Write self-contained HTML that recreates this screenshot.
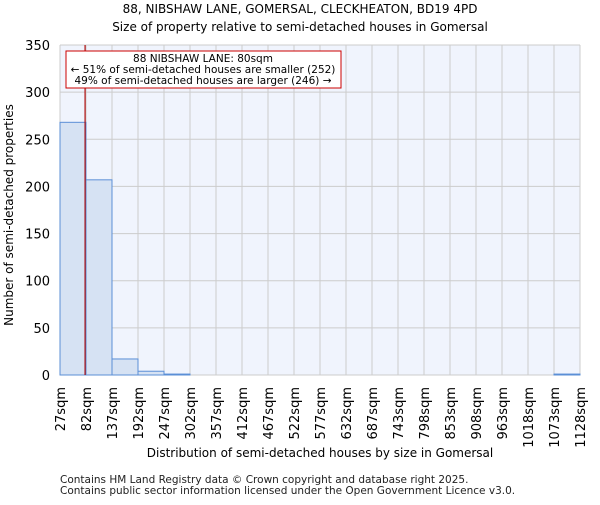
<!DOCTYPE html>
<html><head><meta charset="utf-8"><style>
body{margin:0;background:#fff;font-family:"Liberation Sans","DejaVu Sans",sans-serif}
</style></head><body>
<svg width="600" height="500" xmlns="http://www.w3.org/2000/svg" font-family="DejaVu Sans, Liberation Sans, sans-serif">
<text x="300" y="13" text-anchor="middle" font-size="12">88, NIBSHAW LANE, GOMERSAL, CLECKHEATON, BD19 4PD</text>
<text x="300" y="31" text-anchor="middle" font-size="12">Size of property relative to semi-detached houses in Gomersal</text>
<rect x="60" y="45" width="520" height="330" fill="#f0f4fd"/>
<g id="grid"></g>
<g id="bars"></g>
<g id="axes"></g>
<text transform="translate(13,215) rotate(-90)" text-anchor="middle" font-size="12">Number of semi-detached properties</text>
<text x="320" y="457" text-anchor="middle" font-size="12">Distribution of semi-detached houses by size in Gomersal</text>
<text x="60" y="483" font-size="10.5" fill="#222">Contains HM Land Registry data © Crown copyright and database right 2025.</text>
<text x="60" y="494" font-size="10.5" fill="#222">Contains public sector information licensed under the Open Government Licence v3.0.</text>
<line id="marker" y1="45" y2="375" stroke="#b00000" stroke-width="1.1"/>
<rect x="66" y="51" width="275" height="37" fill="#fff" stroke="#cc0000" stroke-width="1"/>
<text x="203" y="62" text-anchor="middle" font-size="10.5">88 NIBSHAW LANE: 80sqm</text>
<text x="203" y="73" text-anchor="middle" font-size="10.5">← 51% of semi-detached houses are smaller (252)</text>
<text x="203" y="84" text-anchor="middle" font-size="10.5">49% of semi-detached houses are larger (246) →</text>
</svg>
<script>
const binLabels=["27sqm","82sqm","137sqm","192sqm","247sqm","302sqm","357sqm","412sqm","467sqm","522sqm","577sqm","632sqm","687sqm","743sqm","798sqm","853sqm","908sqm","963sqm","1018sqm","1073sqm","1128sqm"];
const counts=[268,207,17,4,1,0,0,0,0,0,0,0,0,0,0,0,0,0,0,1];
const yTicks=[0,50,100,150,200,250,300,350];
const propertySize=80;
const binStart=27, binWidth=55;
const NS="http://www.w3.org/2000/svg";
const L=60,R=580,T=45,B=375,yMax=350;
const bw=(R-L)/counts.length;
const xs=i=>L+i*bw;
const ys=v=>B-v/yMax*(B-T);
function mk(tag,attrs,parent){const e=document.createElementNS(NS,tag);for(const k in attrs)e.setAttribute(k,attrs[k]);document.getElementById(parent).appendChild(e);return e;}
yTicks.forEach(t=>{
 const g=mk('line',{x1:L,x2:R,y1:ys(t),y2:ys(t),stroke:'#cccccc','stroke-width':1},'grid');
 
 
 const tx=mk('text',{x:L-10,y:ys(t)+5,'text-anchor':'end','font-size':13},'axes');
 tx.textContent=t;
 
 
});
binLabels.forEach((lab,i)=>{
 const x=xs(i);
 const g=mk('line',{x1:x,x2:x,y1:T,y2:B,stroke:'#cccccc','stroke-width':1},'grid');
 
 
 const tx=mk('text',{transform:`translate(${x+5},${B+12}) rotate(-90)`,'text-anchor':'end','font-size':13},'axes');
 tx.textContent=lab;
 
 
});
counts.forEach((c,i)=>{
 if(c<=0)return;
 const r=mk('rect',{x:xs(i),y:ys(c),width:bw,height:B-ys(c),fill:'#d6e2f3',stroke:'#5b8fd6','stroke-width':1},'bars');
 
 
});
const mx=L+(propertySize-binStart)/binWidth*bw;
const m=document.getElementById('marker');m.setAttribute('x1',mx);m.setAttribute('x2',mx);
</script>
</body></html>
